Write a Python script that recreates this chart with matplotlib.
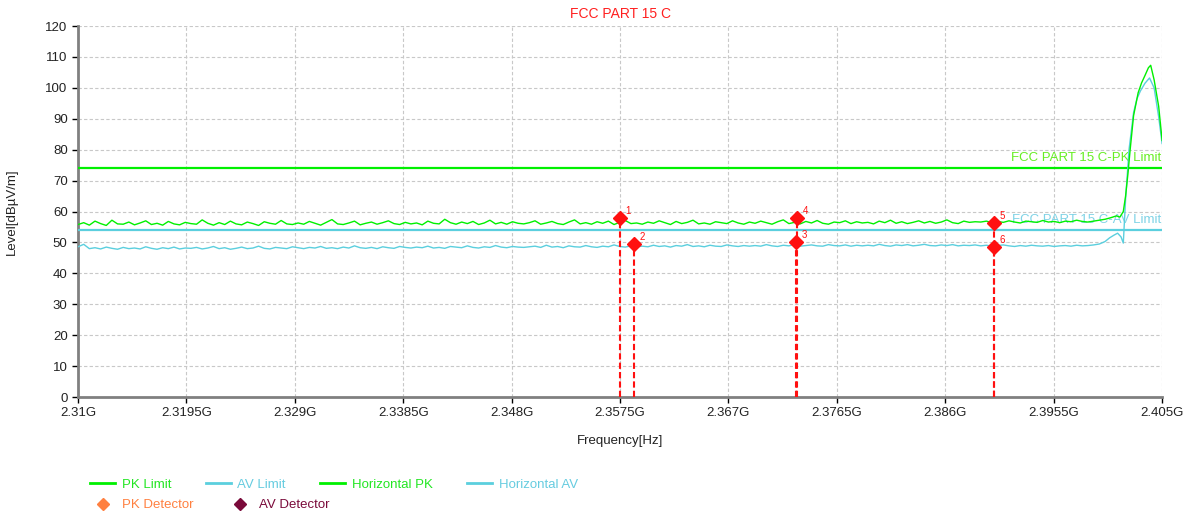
import numpy as np
import matplotlib
matplotlib.use("Agg")
import matplotlib.pyplot as plt
from matplotlib.lines import Line2D

plt.rcParams['font.family'] = ['Liberation Sans', 'DejaVu Sans']

# ---- data ----
title = "FCC PART 15 C"
pk_limit = 74.0
av_limit = 54.0

# flat part of the sweep, 2.310 GHz .. 2.3985 GHz (180 readings)
flat_freq = np.linspace(2.310e9, 2.3985e9, 180)
pk_flat = [
    55.8, 56.4, 55.6, 56.9, 56.1, 55.5, 57.2, 56.0, 55.9, 56.6, 55.7, 56.3, 57.0, 55.8, 56.2, 55.6, 56.8, 56.0, 55.7, 56.5,
    56.1, 55.9, 57.3, 56.2, 55.6, 56.4, 55.8, 56.9, 56.0, 55.7, 56.6, 56.1, 55.5, 56.7, 56.2, 55.9, 57.1, 56.0, 55.8, 56.3,
    55.9, 56.8, 56.2, 55.6, 56.5, 57.4, 56.0, 55.8, 56.3, 56.9, 55.7, 56.2, 56.6, 55.9, 56.4, 57.0, 56.1, 55.8, 56.5, 56.0,
    56.3, 55.7, 56.9, 56.2, 56.0, 57.5, 56.4, 55.9, 56.6, 56.1, 56.8, 55.8, 56.3, 57.2, 56.0, 56.5, 55.9, 56.7, 56.2, 56.0,
    56.4, 57.0, 55.9, 56.3, 56.8, 56.1, 55.8, 56.6, 57.3, 56.0, 56.4, 55.9, 56.7, 56.2, 56.9, 55.8, 56.5, 57.1, 56.1, 56.3,
    55.9, 56.6, 56.2, 57.0, 56.4, 55.8, 56.8, 56.1, 56.5, 57.2, 56.0, 56.3, 55.9, 56.7, 56.4, 56.1, 57.0, 56.3, 55.9, 56.6,
    56.2, 56.9, 56.4, 55.9, 56.7, 57.3, 56.1, 56.5, 56.0, 56.8, 56.3, 57.1, 56.2, 55.9, 56.6, 56.4, 57.0, 56.1, 56.7, 56.3,
    56.5, 56.0, 56.9, 56.4, 57.2, 56.2, 56.7, 56.1, 56.5, 57.0, 56.3, 56.8, 56.2, 56.6, 57.3, 56.4, 56.1, 56.9, 56.5, 56.7,
    56.6, 56.9, 56.4, 56.8, 56.5, 57.0, 56.6, 56.3, 56.9, 56.7, 56.5, 57.1, 56.6, 56.8, 56.4, 56.9, 56.7, 57.2, 56.8, 56.6,
]
av_flat = [
    48.6, 49.4, 48.0, 48.3, 47.9, 48.5, 48.1, 47.8, 48.4, 48.0, 48.2, 47.9, 48.6, 48.1, 47.8, 48.3, 48.0, 48.5, 47.9, 48.2,
    48.1, 48.4, 47.9, 48.2, 48.7, 48.0, 48.3, 47.8, 48.1, 48.5, 48.0, 48.2, 48.8, 48.1, 47.9, 48.4, 48.2, 48.0, 48.6, 48.3,
    48.0, 48.4, 48.2, 48.7, 48.1, 48.3, 48.0, 48.5, 48.2, 48.9, 48.3, 48.1, 48.4, 48.0, 48.6, 48.3, 48.1, 48.7, 48.4, 48.2,
    48.5, 48.3, 48.8, 48.2, 48.4, 48.1, 48.7, 48.5, 48.3, 48.9, 48.4, 48.2, 48.6, 48.4, 49.0, 48.5, 48.3, 48.7, 48.5, 48.4,
    48.6, 48.8, 48.4, 49.1, 48.5, 48.7, 48.3, 48.9, 48.6, 48.5, 49.0, 48.6, 48.4, 48.8, 48.6, 49.2, 48.7, 48.5, 48.9, 48.6,
    48.8, 48.6, 49.1, 48.7, 48.9, 48.5, 49.0, 48.8, 49.3, 48.7, 48.9, 48.6, 49.1, 48.8, 48.7, 49.2, 48.9, 48.7, 49.0, 48.8,
    49.0, 48.8, 49.3, 48.9, 48.7, 49.1, 48.9, 49.4, 48.8, 49.0, 49.2, 48.9, 48.8, 49.3, 49.0, 48.9, 49.2, 48.8, 49.1, 48.9,
    49.1, 48.9, 49.4, 49.0, 48.8, 49.2, 49.0, 49.3, 48.9, 49.1, 49.4, 49.0, 48.9, 49.2, 49.0, 49.3, 48.9, 49.1, 49.0, 49.2,
    48.9, 49.1, 48.8, 49.0, 49.2, 48.9, 48.7, 49.0, 48.8, 49.1, 48.9, 48.8, 49.0, 48.7, 48.9, 49.0, 48.8, 49.1, 48.9, 49.0,
]

# band edge / carrier part (GHz)
pk_tail_freq = [2.3990, 2.3995, 2.4000, 2.4005, 2.4010, 2.4013, 2.4016, 2.4018, 2.4020, 2.4022,
                2.4025, 2.4029, 2.4032, 2.4035, 2.4038, 2.4040, 2.4043, 2.4047, 2.4050]
pk_tail = [56.9, 57.2, 57.5, 58.0, 58.6, 58.2, 60.0, 65.0, 72.0, 80.0,
           91.0, 98.4, 101.6, 104.0, 106.5, 107.3, 102.6, 94.0, 83.0]
av_tail_freq = [2.3990, 2.3995, 2.4000, 2.4004, 2.4008, 2.4011, 2.4014, 2.4016, 2.4018,
                2.4021, 2.4025, 2.4028, 2.4031, 2.4035, 2.4039, 2.4043, 2.4047, 2.4050]
av_tail = [49.2, 49.5, 50.3, 51.5, 52.4, 53.0, 51.8, 49.8, 64.0,
           80.0, 92.0, 96.5, 99.0, 101.5, 103.2, 100.0, 90.6, 82.0]

# detector markers
mk_no = ["1", "2", "3", "4", "5", "6"]
mk_freq = [2.357456e9, 2.358711e9, 2.372895e9, 2.373044e9, 2.390289e9, 2.390289e9]
mk_level = [58.0, 49.5, 50.2, 58.0, 56.4, 48.4]

xticks = [2.31e9, 2.3195e9, 2.329e9, 2.3385e9, 2.348e9, 2.3575e9, 2.367e9, 2.3765e9, 2.386e9, 2.3955e9, 2.405e9]
xtick_labels = ["2.31G", "2.3195G", "2.329G", "2.3385G", "2.348G", "2.3575G", "2.367G",
                "2.3765G", "2.386G", "2.3955G", "2.405G"]
yticks = list(range(0, 121, 10))

pk_freq = np.concatenate([flat_freq, np.array(pk_tail_freq) * 1e9])
pk_level = np.concatenate([pk_flat, pk_tail])
av_freq = np.concatenate([flat_freq, np.array(av_tail_freq) * 1e9])
av_level = np.concatenate([av_flat, av_tail])

GREEN = '#00F000'
BLUE = '#5BCFDE'
RED = '#FF1010'
FS = 9.5

fig = plt.figure(figsize=(11.88, 5.15), dpi=100)
ax = fig.add_axes([0.0657, 0.229, 0.9125, 0.7205])

ax.plot([xticks[0], xticks[-1]], [pk_limit, pk_limit], color=GREEN, lw=1.6, zorder=3)
ax.plot([xticks[0], xticks[-1]], [av_limit, av_limit], color=BLUE, lw=1.6, zorder=3)
ax.plot(av_freq, av_level, color=BLUE, lw=1.0, zorder=4)
ax.plot(pk_freq, pk_level, color=GREEN, lw=1.0, zorder=5)

for n, f, lv in zip(mk_no, mk_freq, mk_level):
    ax.plot([f, f], [0, lv], color=RED, lw=1.5, ls=(0, (3, 1.5)), zorder=6)
    ax.plot(f, lv, marker='D', color=RED, markersize=7.5, zorder=7)
    ax.annotate(n, (f, lv), xytext=(4, 3), textcoords='offset points',
                color=RED, fontsize=7, zorder=8)

ax.text(xticks[-1] - 0.0001e9, 75.3, "FCC PART 15 C-PK Limit", color='#66EE22',
        fontsize=FS, ha='right', va='bottom')
ax.text(xticks[-1] - 0.0001e9, 55.3, "FCC PART 15 C-AV Limit", color='#7FD3E6',
        fontsize=FS, ha='right', va='bottom')

ax.set_xlim(xticks[0], xticks[-1])
ax.set_ylim(0, 120)
ax.set_xticks(xticks)
ax.set_xticklabels(xtick_labels)
ax.set_yticks(yticks)
ax.tick_params(labelsize=FS, length=4, width=1, color='black', labelcolor='#222222')
ax.grid(True, color='#C8C8C8', lw=0.8, ls=(0, (3, 2)))
ax.set_axisbelow(True)
for s in ['top', 'right']:
    ax.spines[s].set_visible(False)
for s in ['left', 'bottom']:
    ax.spines[s].set_color('#808080')
    ax.spines[s].set_linewidth(2)

ax.set_title(title, color='#FF2020', fontsize=10, pad=6)
ax.set_xlabel("Frequency[Hz]", fontsize=FS, labelpad=11, color='#222222')
ax.set_ylabel("Level[dBµV/m]", fontsize=FS, labelpad=20, color='#222222')

h1 = [Line2D([], [], color=GREEN, lw=2), Line2D([], [], color=BLUE, lw=2),
      Line2D([], [], color=GREEN, lw=2), Line2D([], [], color=BLUE, lw=2)]
leg1 = fig.legend(h1, ["PK Limit", "AV Limit", "Horizontal PK", "Horizontal AV"],
                  loc='center left', bbox_to_anchor=(0.0758, 0.0583), ncol=4,
                  frameon=False, fontsize=FS, handlelength=1.9, handletextpad=0.5,
                  columnspacing=2.6, borderpad=0, borderaxespad=0,
                  labelcolor=['#22E622', '#66CCE0', '#22E622', '#66CCE0'])
h2 = [Line2D([], [], color='#FF8040', marker='D', ls='none', markersize=6),
      Line2D([], [], color='#7A0A3A', marker='D', ls='none', markersize=6)]
leg2 = fig.legend(h2, ["PK Detector", "AV Detector"],
                  loc='center left', bbox_to_anchor=(0.0758, 0.0194), ncol=2,
                  frameon=False, fontsize=FS, handlelength=1.9, handletextpad=0.5,
                  columnspacing=2.6, borderpad=0, borderaxespad=0,
                  labelcolor=['#FF8040', '#7A0A3A'])

fig.savefig("out.png", dpi=100)
